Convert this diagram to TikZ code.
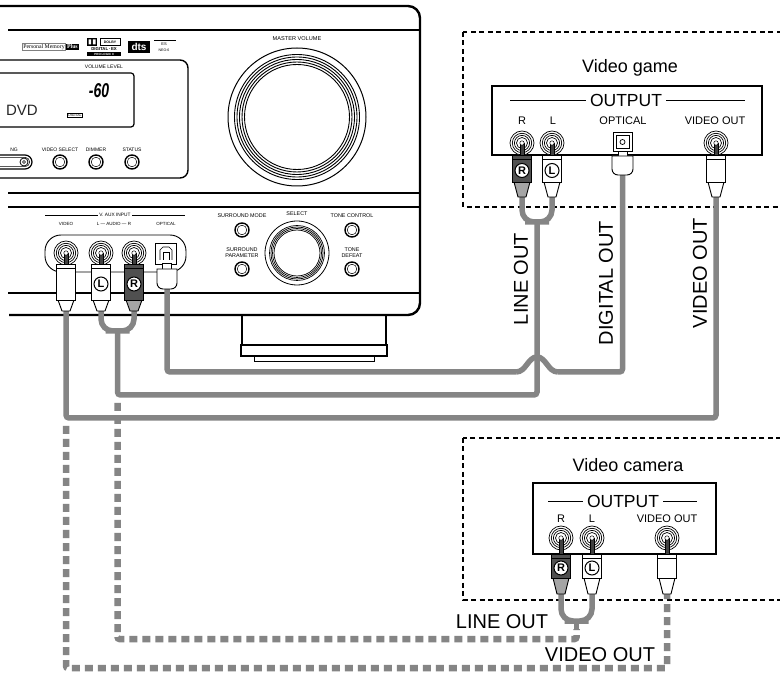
\documentclass[tikz,border=0pt]{standalone}
\usepackage{fontspec}
\setmainfont{Liberation Sans}
\newfontfamily\serifface{Liberation Serif}
\usetikzlibrary{calc}
\definecolor{cable}{RGB}{133,133,133}
\definecolor{plugdark}{RGB}{80,80,80}
\definecolor{plugmid}{RGB}{165,165,165}
\newcommand\fs[1]{\fontsize{#1}{#1}\selectfont}
\tikzset{
 rim/.style={line width=2.4pt, line join=round},
 pline/.style={line width=1.6pt},
 smalllbl/.style={font=\fs{5}, inner sep=0pt},
 devbox/.style={line width=1.3pt, dash pattern=on 5pt off 3.5pt},
 outbox/.style={line width=1.8pt},
 cablesolid/.style={draw=cable, line width=5.5pt, rounded corners=3pt},
 cabledash/.style={draw=cable, line width=6.5pt, dash pattern=on 8pt off 5pt, dash phase=8pt, rounded corners=2pt},
 biglbl/.style={font=\fs{20}, inner sep=0pt},
 devtitle/.style={font=\fs{18}, inner sep=0pt},
 outlbl/.style={font=\fs{17.5}, fill=white, inner sep=4pt},
 jacklbl/.style={font=\fs{11}, inner sep=0pt},
 btn/.style={circle, draw, line width=1.4pt, minimum size=14pt, inner sep=0pt},
}
% jack: name, x, y, pin bottom
\newcommand\rcajack[4]{%
 \node[circle, draw, line width=.7pt, minimum size=24pt, inner sep=0pt, fill=white] (#1) at (#2,#3) {};
 \foreach \rr in {9.7,7.6,5.5} {\draw[line width=.7pt] (#1.center) circle (\rr);}
 \filldraw[line width=.5pt, fill=black!75] ({#2-1.8},#3) rectangle ({#2+1.8},#4);
 \filldraw[line width=.5pt, fill=white] (#1.center) circle (2.2);
}
% plug with letter: name, x, top, body bottom, tip, body fill, taper fill, letter
\newcommand\rcaplug[8]{%
 \filldraw[line width=.9pt, fill=#7] ({#2-8},#4) -- ({#2+8},#4) -- ({#2+4},#5) -- ({#2-4},#5) -- cycle;
 \filldraw[line width=.9pt, fill=#6] ({#2-9.5},#3) rectangle ({#2+9.5},#4);
 \draw[line width=.6pt] ({#2-9.5},{#3+4}) -- ({#2+9.5},{#3+4});
 \node[circle, draw, fill=white, line width=1pt, inner sep=0pt, minimum size=14pt, font=\bfseries\fs{11}] (#1) at (#2,{(#3+#4)/2+2}) {#8};
}
% plain plug: name, x, top, body bottom, tip
\newcommand\rcaplugplain[5]{%
 \filldraw[line width=.9pt, fill=white] ({#2-8},#4) -- ({#2+8},#4) -- ({#2+4},#5) -- ({#2-4},#5) -- cycle;
 \node[draw, fill=white, line width=.9pt, inner sep=0pt, minimum width=19pt, minimum height={#4-#3}, anchor=north] (#1) at (#2,#3) {};
 \draw[line width=.6pt] ({#2-9.5},{#3+4}) -- ({#2+9.5},{#3+4});
}
\begin{document}
\begin{tikzpicture}[x=1pt,y=-1pt]
\clip (0,0) rectangle (780,676);
\fill[white] (0,0) rectangle (780,676);
% ---------------- receiver ----------------
\draw[rim, rounded corners=12pt] (0,6) -- (420,6) -- (420,315) -- (9,315);
\draw[pline] (8,30) -- (420,30);
\draw[rim] (8,193) -- (420,193);
\draw[pline] (8,207) -- (420,207);
\draw[pline] (8,293) -- (420,293);
% logos
\node[draw=black!50, line width=.4pt, font=\serifface\fs{5.8}, inner sep=1pt] (pm) at (44,47) {Personal Memory};
\node[fill=black, text=white, font=\serifface\bfseries\fs{5.8}, inner sep=1pt, anchor=west] (plus) at (pm.east) {Plus};
\node[fill=black, minimum width=10pt, minimum height=8pt, inner sep=0pt] (dd) at (92,42) {};
\fill[white] (88.5,39.5) rectangle (91.2,44.5) (92.8,39.5) rectangle (95.5,44.5);
\node[draw, line width=.5pt, font=\bfseries\fs{3.5}, minimum width=20pt, minimum height=7pt, inner sep=0pt] (dolby) at (110,42) {DOLBY};
\node[font=\bfseries\fs{4.3}, inner sep=0pt] (dex) at (104,49) {DIGITAL\,·\,EX};
\node[fill=black, text=white, font=\bfseries\fs{3}, minimum width=34pt, minimum height=3.5pt, inner sep=0pt] (plii) at (104,54) {PRO LOGIC II};
\node[fill=black, text=white, font=\bfseries\fs{10}, minimum width=22pt, minimum height=12pt, inner sep=0pt] (dts) at (139,47) {dts};
\draw[line width=.6pt] (154,40) -- (176,40);
\node[font=\fs{4}, inner sep=0pt] (es) at (164,44.5) {ES};
\node[font=\fs{3.6}, inner sep=0pt] (neo) at (164,50) {NEO:6};
% display
\draw[line width=1.4pt, rounded corners=8pt] (-10,60) rectangle (188,178);
\node[smalllbl] (vollvl) at (104,67) {VOLUME LEVEL};
\draw[line width=1.2pt, rounded corners=3pt] (-10,73) rectangle (134,127);
\node[font=\bfseries\itshape\fs{20}, inner sep=0pt] (sixty) at (99,91) {\scalebox{0.7}[1]{-60}};
\node[font=\fs{15}, inner sep=0pt, text=black!85] (dvd) at (22,110) {DVD};
\node[draw, line width=.5pt, font=\fs{3.5}, inner sep=.8pt] (dig) at (75,115) {DIGITAL};
% slot and buttons
\draw[line width=1.2pt, rounded corners=7pt] (-10,155) rectangle (32,169);
\draw[line width=.5pt, rounded corners=4pt] (-10,157.5) rectangle (29.5,166.5);
\node[circle, draw, line width=.8pt, minimum size=8pt, inner sep=0pt] (slotb) at (24,162) {};
\draw[line width=.5pt] (slotb.center) circle (1.6);
\node[smalllbl] (ng) at (14,150) {NG};
\node[smalllbl] (lvs) at (60,150) {VIDEO SELECT};
\node[smalllbl] (ldim) at (96,150) {DIMMER};
\node[smalllbl] (lsta) at (132,150) {STATUS};
\node[btn] (bvs) at (60,162) {};
\node[btn] (bdim) at (96,162) {};
\node[btn] (bsta) at (132,162) {};
\foreach \b in {bvs,bdim,bsta} {\draw[line width=.5pt] (\b.center) circle (4.8);}
% master volume
\node[font=\fs{5.6}, inner sep=0pt] (mvlbl) at (297,39) {MASTER VOLUME};
\node[circle, draw, line width=1pt, minimum size=138pt, inner sep=0pt] (mvol) at (297,117) {};
\foreach \r in {62.5,60,57.5,55,52.5} {\draw[line width=.9pt] (mvol.center) circle (\r);}
% V. AUX input
\draw[line width=.6pt] (45,215) -- (185,215);
\node[font=\fs{4.8}, fill=white, inner sep=1.5pt] (vaux) at (115,215) {V. AUX INPUT};
\node[font=\fs{4.5}, inner sep=0pt] (lvid) at (66,224) {VIDEO};
\node[font=\fs{4.5}, inner sep=0pt] (laud) at (114,224) {L — AUDIO — R};
\node[font=\fs{4.5}, inner sep=0pt] (lopt) at (166,224) {OPTICAL};
\draw[line width=.9pt, rounded corners=16pt] (45,235) rectangle (186,272);
% surround / select / tone
\node[font=\fs{5.4}, inner sep=0pt] (lsm) at (242,216) {SURROUND MODE};
\node[font=\fs{5.4}, inner sep=0pt, align=center] (lsp) at (242,252.5) {\fontsize{5.4}{6.5}\selectfont SURROUND\\PARAMETER};
\node[font=\fs{5.4}, inner sep=0pt] (lsel) at (297,214) {SELECT};
\node[font=\fs{5.4}, inner sep=0pt] (ltc) at (352,216) {TONE CONTROL};
\node[font=\fs{5.4}, inner sep=0pt, align=center] (ltd) at (352,252.5) {\fontsize{5.4}{6.5}\selectfont TONE\\DEFEAT};
\node[btn] (bsm) at (242,230) {};
\node[btn] (bsp) at (242,269) {};
\node[btn] (btc) at (352,230) {};
\node[btn] (btd) at (352,269) {};
\foreach \b in {bsm,bsp,btc,btd} {\draw[line width=.5pt] (\b.center) circle (4.8);}
\node[circle, draw, line width=.8pt, minimum size=64pt, inner sep=0pt] (sel) at (297,253) {};
\foreach \r in {27.5,26,24.5,23} {\draw[line width=.7pt] (sel.center) circle (\r);}
% stand
\draw[line width=1.1pt] (242,316) -- (242,345) (386,316) -- (386,345);
\draw[line width=2.2pt] (241,345) rectangle (387,356);
\draw[line width=.9pt] (254,356) rectangle (374,361);
% ---------------- devices ----------------
\draw[devbox] (463,32) rectangle (800,207);
\node[devtitle] (vgame) at (630,68) {Video game};
\draw[outbox] (492,86) rectangle (762,155);
\draw[line width=1pt] (510,101) -- (745,101);
\node[outlbl] (vgout) at (626,100) {OUTPUT};
\node[jacklbl] (vglR) at (522,121) {R};
\node[jacklbl] (vglL) at (553,121) {L};
\node[jacklbl] (vglO) at (623,121) {OPTICAL};
\node[jacklbl] (vglV) at (715,121) {VIDEO OUT};
\draw[devbox] (463,438) rectangle (800,600);
\node[devtitle] (vcam) at (628,465) {Video camera};
\draw[outbox] (533,483) rectangle (716,554);
\draw[line width=1pt] (548,502) -- (697,502);
\node[outlbl] (vcout) at (623,501) {OUTPUT};
\node[jacklbl] (vclR) at (561,519) {R};
\node[jacklbl] (vclL) at (592,519) {L};
\node[jacklbl] (vclV) at (667,519) {VIDEO OUT};
% ---------------- cable points ----------------
\coordinate (rxV) at (66,311);
\coordinate (rxL) at (101,311);
\coordinate (rxR) at (134,311);
\coordinate (rxO) at (167,289);
\coordinate (rxJ) at (117.5,331);
\coordinate (vgR) at (522,197);
\coordinate (vgL) at (552,197);
\coordinate (vgO) at (622.5,174);
\coordinate (vgV) at (716,197);
\coordinate (vgJ) at (537,222);
\coordinate (vcR) at (561,594);
\coordinate (vcL) at (592,594);
\coordinate (vcV) at (667,594);
\coordinate (vcJ) at (576.5,621);
\coordinate (vcS) at (576.5,629);
\coordinate (yOpt) at (0,372);
\coordinate (yLine) at (0,395);
\coordinate (yVid) at (0,418);
\coordinate (yDL) at (0,639);
\coordinate (yDV) at (0,668);
\coordinate (bumpL) at (516,372);
\coordinate (bumpT) at (537,357);
\coordinate (bumpR) at (558,372);
\coordinate (dLs) at (117.5,398);
\coordinate (dVs) at (66,421);
% ---------------- cables ----------------
\draw[cablesolid] (rxO) -- (rxO |- yOpt) -- (bumpL);
\draw[draw=cable, line width=5.5pt] (bumpL) .. controls +(10,0) and +(-9,0) .. (bumpT) .. controls +(9,0) and +(-10,0) .. (bumpR);
\draw[cablesolid] (bumpR) -- (vgO |- yOpt) -- (vgO);
\draw[cablesolid, rounded corners=12pt] (rxL) |- (rxJ) -| (rxR);
\draw[cablesolid, rounded corners=12pt] (vgR) |- (vgJ) -| (vgL);
\draw[cablesolid, rounded corners=12pt] (vcR) |- (vcJ) -| (vcL);
\draw[cablesolid] (rxJ) -- (rxJ |- yLine) -- (vgJ |- yLine) -- (vgJ);
\draw[cablesolid] (rxV) -- (rxV |- yVid) -- (vgV |- yVid) -- (vgV);
\draw[draw=cable, line width=5.5pt] (vcJ) -- (vcS);
\draw[cabledash] (dLs) -- (dLs |- yDL) -- (vcS |- yDL) -- (vcS);
\draw[cabledash] (dVs) -- (dVs |- yDV) -- (vcV |- yDV) -- (vcV);
% ---------------- jacks and plugs ----------------
\rcajack{rjV}{66}{253}{264}
\rcajack{rjL}{101}{253}{264}
\rcajack{rjR}{134}{253}{264}
\node[draw, fill=white, line width=.9pt, minimum size=21pt, inner sep=0pt] (rjO) at (166,254) {};
\draw[line width=.7pt] (160,260) -- (160,250) -- (163,247) -- (169,247) -- (172,250) -- (172,260);
\draw[line width=.7pt] (163,260) -- (163,252) -- (169,252) -- (169,260);
\rcaplugplain{pV}{66}{264}{300}{311}
\rcaplug{pL}{101}{264}{300}{311}{white}{white}{L}
\rcaplug{pR}{134}{264}{300}{311}{plugdark}{plugmid}{R}
\filldraw[line width=.8pt, fill=white] (162.5,263) rectangle (171.5,269);
\filldraw[line width=.9pt, fill=white] (157,269) -- (177,269) [rounded corners=6pt] -- (177,289) -- (157,289) [sharp corners] -- cycle;
\rcajack{gjR}{522}{143}{155}
\rcajack{gjL}{552}{143}{155}
\rcajack{gjV}{716}{143}{155}
\node[draw, fill=white, line width=.9pt, minimum size=19pt, inner sep=0pt] (gjO) at (622.5,142) {};
\draw[line width=.7pt] (616,135.5) rectangle (629,148.5);
\draw[line width=.7pt] (622.5,142) circle (2.5);
\rcaplug{gR}{522}{155}{182}{197}{plugdark}{plugmid}{R}
\rcaplug{gL}{552}{155}{182}{197}{white}{white}{L}
\rcaplugplain{gV}{716}{155}{182}{197}
\filldraw[line width=.8pt, fill=white] (618,151) rectangle (627,156);
\filldraw[line width=.9pt, fill=white] (612,156) -- (633,156) [rounded corners=6pt] -- (633,175) -- (612,175) [sharp corners] -- cycle;
\rcajack{cjR}{561}{538}{554}
\rcajack{cjL}{592}{538}{554}
\rcajack{cjV}{667}{538}{554}
\rcaplug{cR}{561}{554}{578}{594}{plugdark}{plugmid}{R}
\rcaplug{cL}{592}{554}{578}{594}{white}{white}{L}
\rcaplugplain{cV}{667}{554}{578}{594}
% ---------------- cable labels ----------------
\node[biglbl, rotate=90] (lo1) at (521,279) {LINE OUT};
\node[biglbl, rotate=90] (do1) at (606,283) {DIGITAL OUT};
\node[biglbl, rotate=90] (vo1) at (700,273) {VIDEO OUT};
\node[biglbl] (lo2) at (502,622) {LINE OUT};
\node[biglbl] (vo2) at (600,655) {VIDEO OUT};
\end{tikzpicture}
\end{document}
